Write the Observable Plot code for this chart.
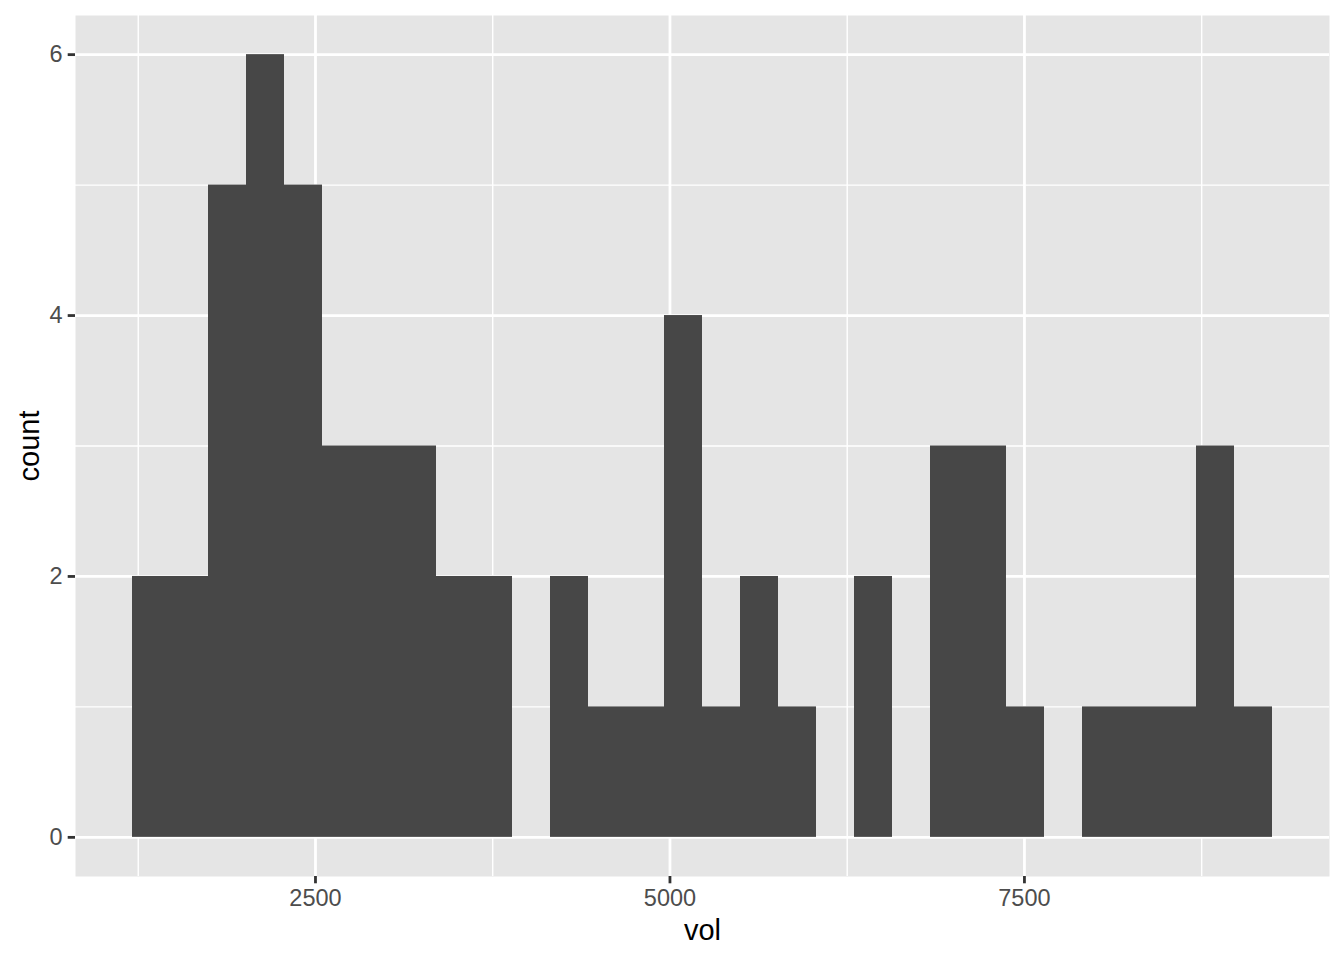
<!DOCTYPE html>
<html>
<head>
<meta charset="utf-8">
<script src="https://cdn.jsdelivr.net/npm/d3@7"></script>
<script src="https://cdn.jsdelivr.net/npm/@observablehq/plot@0.6"></script>
<style>
  html, body { margin: 0; padding: 0; background: #ffffff; }
  svg { display: block; }
</style>
</head>
<body>
<div id="chart"></div>
<script>
// Histogram bins (30 bins)
const binStart = [1209.5, 1477.5, 1745.5, 2013.5, 2281.5, 2549.5, 2817.5, 3085.5, 3353.5, 3621.5,
                  3889.5, 4157.5, 4425.5, 4693.5, 4961.5, 5229.5, 5497.5, 5765.5, 6033.5, 6301.5,
                  6569.5, 6837.5, 7105.5, 7373.5, 7641.5, 7909.5, 8177.5, 8445.5, 8713.5, 8981.5];
const binEnd   = [1477.5, 1745.5, 2013.5, 2281.5, 2549.5, 2817.5, 3085.5, 3353.5, 3621.5, 3889.5,
                  4157.5, 4425.5, 4693.5, 4961.5, 5229.5, 5497.5, 5765.5, 6033.5, 6301.5, 6569.5,
                  6837.5, 7105.5, 7373.5, 7641.5, 7909.5, 8177.5, 8445.5, 8713.5, 8981.5, 9249.5];
const counts   = [2, 2, 5, 6, 5, 3, 3, 3, 2, 2,
                  0, 2, 1, 1, 4, 1, 2, 1, 0, 2,
                  0, 3, 3, 1, 0, 1, 1, 1, 3, 1];

const xTicks = [2500, 5000, 7500];
const xMinor = [1250, 3750, 6250, 8750];
const yTicks = [0, 2, 4, 6];
const yMinor = [1, 3, 5];
const xLabel = "vol";
const yLabel = "count";

const bins = counts.map((c, i) => ({x1: binStart[i], x2: binEnd[i], count: c}));

const chart = Plot.plot({
  width: 1344,
  height: 960,
  marginLeft: 75,
  marginRight: 15,
  marginTop: 15,
  marginBottom: 84,
  style: {fontFamily: "'Liberation Sans', Arial, sans-serif", background: "#ffffff"},
  x: {domain: [807.5, 9651.5], axis: null},
  y: {domain: [-0.3, 6.3], axis: null},
  marks: [
    Plot.frame({fill: "#E5E5E5", stroke: null}),
    Plot.ruleX(xMinor, {stroke: "#ffffff", strokeWidth: 1.4}),
    Plot.ruleY(yMinor, {stroke: "#ffffff", strokeWidth: 1.4}),
    Plot.ruleX(xTicks, {stroke: "#ffffff", strokeWidth: 2.8}),
    Plot.ruleY(yTicks, {stroke: "#ffffff", strokeWidth: 2.8}),
    Plot.rectY(bins.filter(d => d.count > 0), {x1: "x1", x2: "x2", y1: 0, y2: "count", fill: "#474747", inset: 0}),
    Plot.axisX(xTicks, {tickSize: 7.3, tickPadding: 5.5, fontSize: 23.5, tickFormat: d3.format("d"), stroke: "#333333", strokeWidth: 2.8, fill: "#4D4D4D", label: null}),
    Plot.axisY(yTicks, {tickSize: 7.3, tickPadding: 5.5, fontSize: 23.5, tickFormat: d3.format("d"), stroke: "#333333", strokeWidth: 2.8, fill: "#4D4D4D", label: null}),
    Plot.text([xLabel], {frameAnchor: "bottom", dy: 63, lineAnchor: "bottom", textAnchor: "middle", fontSize: 29, fill: "#000000"}),
    Plot.text([yLabel], {frameAnchor: "left", dx: -46, rotate: -90, lineAnchor: "middle", textAnchor: "middle", fontSize: 29, fill: "#000000"})
  ]
});
document.getElementById("chart").appendChild(chart);
</script>
</body>
</html>
